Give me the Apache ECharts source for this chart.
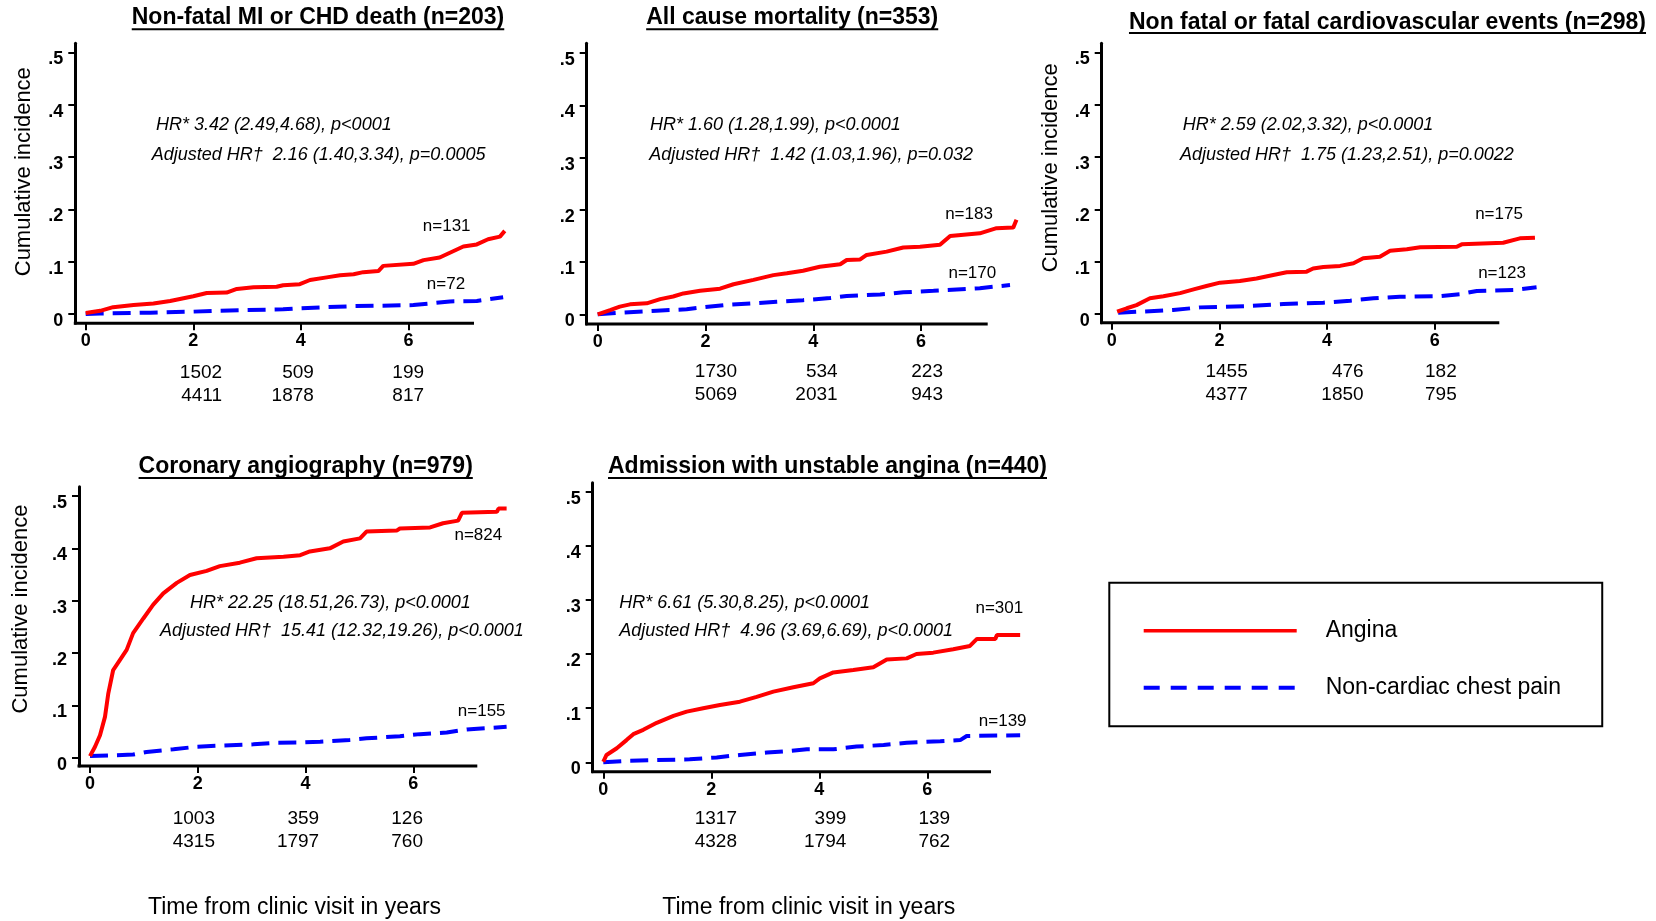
<!DOCTYPE html>
<html>
<head>
<meta charset="utf-8">
<script src="https://cdn.jsdelivr.net/npm/echarts@6/dist/echarts.min.js"></script>
<style>
html,body{margin:0;padding:0;background:#fff;}
#chart{width:1656px;height:921px;}
</style>
</head>
<body>
<div id="chart"></div>
<script>
// ================= DATA =================
const panelTitles = [
  'Non-fatal MI or CHD death (n=203)',
  'All cause mortality (n=353)',
  'Non fatal or fatal cardiovascular events (n=298)',
  'Coronary angiography (n=979)',
  'Admission with unstable angina (n=440)'
];
const hrText = [
  'HR* 3.42 (2.49,4.68), p<0001',
  'HR* 1.60 (1.28,1.99), p<0.0001',
  'HR* 2.59 (2.02,3.32), p<0.0001',
  'HR* 22.25 (18.51,26.73), p<0.0001',
  'HR* 6.61 (5.30,8.25), p<0.0001'
];
const adjHrText = [
  'Adjusted HR\u2020  2.16 (1.40,3.34), p=0.0005',
  'Adjusted HR\u2020  1.42 (1.03,1.96), p=0.032',
  'Adjusted HR\u2020  1.75 (1.23,2.51), p=0.0022',
  'Adjusted HR\u2020  15.41 (12.32,19.26), p<0.0001',
  'Adjusted HR\u2020  4.96 (3.69,6.69), p<0.0001'
];
const anginaNLabels = ['n=131', 'n=183', 'n=175', 'n=824', 'n=301'];
const ncpNLabels = ['n=72', 'n=170', 'n=123', 'n=155', 'n=139'];
const riskYears = [2, 4, 6];
const riskAngina = [[1502, 509, 199], [1730, 534, 223], [1455, 476, 182], [1003, 359, 126], [1317, 399, 139]];
const riskNcp = [[4411, 1878, 817], [5069, 2031, 943], [4377, 1850, 795], [4315, 1797, 760], [4328, 1794, 762]];
const xTickValues = [0, 2, 4, 6];
const xTickLabels = ['0', '2', '4', '6'];
const yTickValues = [0, 0.1, 0.2, 0.3, 0.4, 0.5];
const yTickLabels = ['0', '.1', '.2', '.3', '.4', '.5'];
const yAxisTitle = 'Cumulative incidence';
const xAxisTitle = 'Time from clinic visit in years';
const seriesNames = ['Angina', 'Non-cardiac chest pain'];

// [years, cumulative incidence]
const angina1 = [[0,0.002],[0.27,0.006],[0.51,0.013],[0.89,0.017],[1.26,0.020],[1.57,0.025],[2.0,0.034],[2.25,0.040],[2.62,0.041],[2.81,0.048],[3.12,0.051],[3.55,0.052],[3.67,0.055],[3.98,0.057],[4.17,0.065],[4.48,0.070],[4.73,0.074],[4.98,0.076],[5.16,0.080],[5.44,0.082],[5.53,0.092],[6.09,0.096],[6.28,0.103],[6.58,0.108],[6.83,0.120],[7.02,0.129],[7.27,0.133],[7.48,0.143],[7.70,0.148],[7.79,0.159]];
const ncp1 = [[0,0],[0.27,0.001],[1.2,0.0025],[2.0,0.0045],[2.5,0.0064],[3.0,0.0076],[3.67,0.009],[3.98,0.011],[4.98,0.015],[6.09,0.017],[6.40,0.020],[6.77,0.024],[7.27,0.025],[7.76,0.032]];

const angina2 = [[0,0],[0.23,0.008],[0.41,0.0146],[0.6,0.019],[0.91,0.021],[1.16,0.029],[1.40,0.034],[1.59,0.040],[1.90,0.045],[2.27,0.049],[2.52,0.0575],[2.89,0.066],[3.26,0.075],[3.51,0.0785],[3.81,0.0835],[4.12,0.091],[4.50,0.0958],[4.62,0.104],[4.87,0.105],[4.99,0.1136],[5.36,0.120],[5.67,0.128],[5.98,0.1295],[6.35,0.133],[6.54,0.150],[7.09,0.155],[7.40,0.165],[7.71,0.166],[7.77,0.181]];
const ncp2 = [[0,0],[0.41,0.003],[1.09,0.007],[1.65,0.0096],[1.96,0.0134],[2.39,0.018],[2.89,0.021],[3.32,0.024],[3.81,0.027],[4.31,0.031],[4.62,0.035],[5.24,0.038],[5.67,0.042],[6.23,0.045],[7.09,0.050],[7.65,0.056]];

const angina3 = [[0.10,0.0045],[0.28,0.011],[0.46,0.017],[0.71,0.030],[0.96,0.034],[1.27,0.040],[1.52,0.047],[1.76,0.0535],[2.01,0.060],[2.38,0.063],[2.69,0.068],[3.0,0.0746],[3.25,0.0797],[3.62,0.081],[3.74,0.087],[3.93,0.090],[4.24,0.092],[4.49,0.097],[4.67,0.1065],[4.98,0.1096],[5.17,0.121],[5.48,0.1237],[5.73,0.1275],[6.41,0.1287],[6.50,0.1332],[7.27,0.1363],[7.58,0.1447],[7.86,0.146]];
const ncp3 = [[0.12,0.0025],[0.53,0.0045],[1.14,0.0076],[1.64,0.0127],[2.51,0.015],[3.19,0.019],[3.93,0.0216],[4.43,0.0255],[4.86,0.030],[5.35,0.033],[6.10,0.0344],[6.47,0.038],[6.78,0.044],[7.46,0.046],[7.89,0.051]];

const angina4 = [[0,0.003],[0.093,0.021],[0.186,0.043],[0.278,0.078],[0.34,0.123],[0.43,0.1675],[0.557,0.187],[0.68,0.206],[0.80,0.238],[0.99,0.266],[1.17,0.292],[1.36,0.314],[1.61,0.334],[1.855,0.349],[2.165,0.357],[2.41,0.366],[2.78,0.3726],[3.09,0.381],[3.59,0.384],[3.90,0.387],[4.08,0.394],[4.45,0.400],[4.70,0.413],[5.01,0.419],[5.13,0.432],[5.69,0.434],[5.75,0.438],[6.31,0.440],[6.55,0.448],[6.83,0.453],[6.90,0.468],[7.55,0.470],[7.58,0.476],[7.73,0.476]];
const ncp4 = [[0,0.003],[0.80,0.006],[1.05,0.011],[1.55,0.016],[1.98,0.021],[2.41,0.023],[3.03,0.0255],[3.46,0.0287],[3.90,0.029],[4.27,0.0306],[4.82,0.034],[5.13,0.037],[5.75,0.041],[6.12,0.045],[6.62,0.048],[6.99,0.054],[7.73,0.059]];

const angina5 = [[0,0.001],[0.06,0.0135],[0.25,0.026],[0.43,0.041],[0.556,0.052],[0.74,0.060],[0.99,0.073],[1.30,0.0856],[1.545,0.0936],[1.85,0.0998],[2.16,0.106],[2.53,0.112],[2.84,0.121],[3.15,0.1305],[3.52,0.1385],[3.89,0.146],[4.01,0.155],[4.26,0.166],[4.63,0.1705],[5.0,0.1755],[5.25,0.190],[5.62,0.192],[5.80,0.200],[6.11,0.2026],[6.48,0.209],[6.79,0.215],[6.92,0.228],[7.26,0.228],[7.29,0.235],[7.72,0.235]];
const ncp5 = [[0,0],[0.49,0.003],[1.6,0.0055],[2.1,0.009],[2.53,0.0135],[3.03,0.018],[3.46,0.021],[3.77,0.024],[4.26,0.024],[4.69,0.029],[5.19,0.032],[5.62,0.036],[6.24,0.039],[6.61,0.041],[6.73,0.0486],[7.72,0.050]];

const anginaSeries = [angina1, angina2, angina3, angina4, angina5];
const ncpSeries = [ncp1, ncp2, ncp3, ncp4, ncp5];

// ================= LAYOUT / STYLE =================
const FONT = "'Liberation Sans', Arial, Helvetica, sans-serif";
const RED = '#ff0000';
const BLUE = '#0000ff';
const X_DATA_END = 8.0;   // plotting area extends past the drawn x-axis line (curves run beyond it)

// grid: box of the drawn axes; xr: x value at y-axis / at end of the x-axis line; yr: y value at x-axis / top of y-axis
const layout = [
  { grid: {left: 75.3, top: 43.3, width: 398.7, height: 280}, xr: [-0.193, 7.218], yr: [-0.0178, 0.5176],
    title: [318, 17.2, 29.2], hr: [156, 125], adj: [151.7, 155], nA: [446.7, 226.5], nN: [446, 284],
    riskY: [372.3, 395.7], riskDx: [28.8, 13, 15.6], yName: [24.2, 171.7], xName: null },
  { grid: {left: 586.7, top: 43.3, width: 401, height: 280.7}, xr: [-0.204, 7.236], yr: [-0.0186, 0.519],
    title: [792.2, 17.2, 29.2], hr: [650, 125], adj: [649.3, 155], nA: [969, 214.3], nN: [972.3, 273.3],
    riskY: [371.7, 395], riskDx: [31.6, 24.3, 21.9], yName: null, xName: null },
  { grid: {left: 1101.7, top: 43.3, width: 397.6, height: 279.4}, xr: [-0.186, 7.198], yr: [-0.0166, 0.5176],
    title: [1387.5, 22.2, 33], hr: [1182.7, 125], adj: [1180, 155], nA: [1499, 214.3], nN: [1502, 273.3],
    riskY: [371.7, 395], riskDx: [28.3, 36.5, 21.9], yName: [1050.5, 167.8], xName: null },
  { grid: {left: 79, top: 486.7, width: 398.3, height: 279.3}, xr: [-0.204, 7.186], yr: [-0.0159, 0.5178],
    title: [305.7, 466.3, 478], hr: [190, 602.5], adj: [160, 631.2], nA: [478.3, 535.7], nN: [481.7, 711.7],
    riskY: [818.3, 841.7], riskDx: [17.2, 13.6, 9.6], yName: [21.3, 609], xName: [294.5, 907.5] },
  { grid: {left: 592.7, top: 482.7, width: 398.3, height: 289}, xr: [-0.196, 7.18], yr: [-0.0174, 0.5166],
    title: [827.5, 466.3, 478], hr: [619.3, 602.5], adj: [619.3, 631.2], nA: [999.3, 608.3], nN: [1002.7, 721.7],
    riskY: [818.3, 841.7], riskDx: [25.7, 27, 22.9], yName: null, xName: [808.8, 907.5] }
];

function labelFor(values, labels, v) {
  for (let i = 0; i < values.length; i++) if (Math.abs(values[i] - v) < 1e-9) return labels[i];
  return '';
}

const grids = [], xAxes = [], yAxes = [], series = [];
layout.forEach((L, i) => {
  const pxPerUnit = L.grid.width / (L.xr[1] - L.xr[0]);
  grids.push({left: L.grid.left, top: L.grid.top, height: L.grid.height,
              width: pxPerUnit * (X_DATA_END - L.xr[0]), containLabel: false});
  xAxes.push({
    gridIndex: i, type: 'value', min: L.xr[0], max: X_DATA_END,
    axisLine: {show: false, onZero: false},
    axisTick: {show: true, customValues: xTickValues, length: 7, lineStyle: {color: '#000', width: 2}},
    axisLabel: {show: true, customValues: xTickValues, formatter: v => labelFor(xTickValues, xTickLabels, v),
      color: '#000', fontFamily: FONT, fontSize: 18, fontWeight: 'bold', margin: 9},
    splitLine: {show: false}
  });
  yAxes.push({
    gridIndex: i, type: 'value', min: L.yr[0], max: L.yr[1],
    axisLine: {show: true, onZero: false, lineStyle: {color: '#000', width: 3}},
    axisTick: {show: true, customValues: yTickValues, length: 7, lineStyle: {color: '#000', width: 2}},
    axisLabel: {show: true, customValues: yTickValues, formatter: v => labelFor(yTickValues, yTickLabels, v),
      color: '#000', fontFamily: FONT, fontSize: 18, fontWeight: 'bold', margin: 12,
      verticalAlign: 'top', lineHeight: 14},
    splitLine: {show: false}
  });
  series.push({
    type: 'line', name: seriesNames[1], xAxisIndex: i, yAxisIndex: i, data: ncpSeries[i],
    symbol: 'none', showSymbol: false, clip: false, silent: true, z: 2,
    lineStyle: {color: BLUE, width: 4, type: [18, 9], cap: 'butt'}, itemStyle: {color: BLUE}
  });
  series.push({
    type: 'line', name: seriesNames[0], xAxisIndex: i, yAxisIndex: i, data: anginaSeries[i],
    symbol: 'none', showSymbol: false, clip: false, silent: true, z: 3,
    lineStyle: {color: RED, width: 4}, itemStyle: {color: RED}
  });
});

const chart = echarts.init(document.getElementById('chart'), null, {renderer: 'canvas'});
chart.setOption({
  animation: false,
  backgroundColor: '#fff',
  grid: grids, xAxis: xAxes, yAxis: yAxes, series: series,
  legend: {
    orient: 'vertical', left: 1109.3, top: 582.7,
    padding: [36.6, 41.3, 27, 32.4],
    itemWidth: 153, itemHeight: 26, itemGap: 34,
    borderColor: '#000', borderWidth: 2, backgroundColor: '#fff',
    selectedMode: false,
    textStyle: {fontSize: 23, color: '#000', fontFamily: FONT, padding: [0, 0, 0, 24]},
    itemStyle: {opacity: 0, color: 'rgba(0,0,0,0)', borderWidth: 0},
    lineStyle: {width: 4},
    data: [
      {name: seriesNames[0], lineStyle: {width: 3.5, color: RED}},
      {name: seriesNames[1], lineStyle: {width: 4, color: BLUE, type: [16, 11]}}
    ]
  }
});

// ---- annotations (text) ----
const mctx = document.createElement('canvas').getContext('2d');
function measure(text, font) { mctx.font = font; return mctx.measureText(text).width; }
function textEl(x, y, text, o) {
  o = o || {};
  const align = o.align || 'center';
  return {
    type: 'text', x: x, y: y, rotation: o.rotation || 0, silent: true, z: 10,
    style: {
      text: text, fill: '#000', fontFamily: FONT, fontSize: o.fontSize || 18,
      fontWeight: o.fontWeight || 'normal', fontStyle: o.fontStyle || 'normal',
      align: align, verticalAlign: 'middle', textAlign: align, textVerticalAlign: 'middle'
    }
  };
}

const g = [];
layout.forEach((L, i) => {
  // x-axis line: from the y-axis to its drawn end
  const p0 = chart.convertToPixel({gridIndex: i}, [L.xr[0], L.yr[0]]);
  const p1 = chart.convertToPixel({gridIndex: i}, [L.xr[1], L.yr[0]]);
  g.push({type: 'line', silent: true, z: 9,
    shape: {x1: p0[0] - 1.5, y1: p0[1], x2: p1[0], y2: p1[1]},
    style: {stroke: '#000', lineWidth: 3}});
  // title + underline
  const tw = measure(panelTitles[i], "bold 23px " + FONT);
  g.push(textEl(L.title[0], L.title[1], panelTitles[i], {fontSize: 23, fontWeight: 'bold'}));
  g.push({type: 'line', silent: true, z: 10,
    shape: {x1: L.title[0] - tw / 2, y1: L.title[2], x2: L.title[0] + tw / 2, y2: L.title[2]},
    style: {stroke: '#000', lineWidth: 2}});
  // hazard ratios
  g.push(textEl(L.hr[0], L.hr[1], hrText[i], {fontSize: 18, fontStyle: 'italic', align: 'left'}));
  g.push(textEl(L.adj[0], L.adj[1], adjHrText[i], {fontSize: 18, fontStyle: 'italic', align: 'left'}));
  // n labels
  g.push(textEl(L.nA[0], L.nA[1], anginaNLabels[i], {fontSize: 17}));
  g.push(textEl(L.nN[0], L.nN[1], ncpNLabels[i], {fontSize: 17}));
  // numbers at risk, aligned to the x ticks
  riskYears.forEach((yr, k) => {
    const px = chart.convertToPixel({gridIndex: i}, [yr, 0])[0] + L.riskDx[k];
    g.push(textEl(px, L.riskY[0], String(riskAngina[i][k]), {fontSize: 19, align: 'right'}));
    g.push(textEl(px, L.riskY[1], String(riskNcp[i][k]), {fontSize: 19, align: 'right'}));
  });
  if (L.yName) g.push(textEl(L.yName[0], L.yName[1], yAxisTitle, {fontSize: 22, rotation: Math.PI / 2}));
  if (L.xName) g.push(textEl(L.xName[0], L.xName[1], xAxisTitle, {fontSize: 23}));
});
chart.setOption({graphic: {elements: g}});
</script>
</body>
</html>
